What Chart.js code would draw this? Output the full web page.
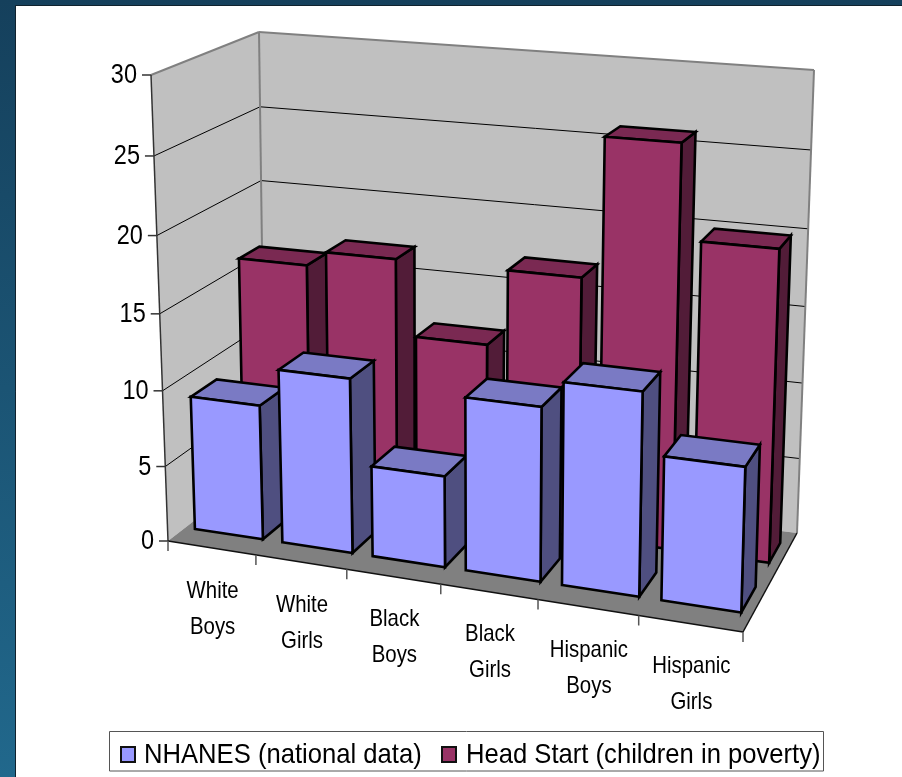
<!DOCTYPE html>
<html>
<head>
<meta charset="utf-8">
<style>
  html, body { margin: 0; padding: 0; background: #fff; }
  #wrap { position: relative; width: 902px; height: 777px; overflow: hidden; }
  canvas { display: block; }
</style>
<script src="https://cdn.jsdelivr.net/npm/chart.js@4/dist/chart.umd.min.js"></script>
</head>
<body>
<div id="wrap"><canvas id="chart" width="902" height="777"></canvas></div>
<script>
// Obesity prevalence by group, in percent
const categories = [['White', 'Boys'], ['White', 'Girls'], ['Black', 'Boys'], ['Black', 'Girls'], ['Hispanic', 'Boys'], ['Hispanic', 'Girls']];
const nhanesValues = [8.9, 11.4, 5.9, 11.1, 12.8, 9];
const headStartValues = [16, 17, 12, 17, 26, 20];
const seriesNames = ['NHANES (national data)', 'Head Start (children in poverty)'];
const yMax = 30;
const yStep = 5;

// Face colours of each series: front, top, side
const faces = [
  { front: '#9999FF', top: '#7A7AC4', side: '#4F4F80' },
  { front: '#993366', top: '#7A2952', side: '#521C38' }
];

// Depth span of each series row inside the box (0 = front, 1 = back wall)
const rowDepth = [[0.18, 0.44], [0.685, 0.885]];

// Corners of the 3D box on screen
const box = {
  front: { bl: [168, 541], br: [743, 632], tl: [151, 75], tr: [757, 118] },
  back: { bl: [265, 466], br: [797, 533], tl: [259, 32], tr: [814, 70] }
};

const lerp = (a, b, t) => a + (b - a) * t;
const lerpPt = (p, q, t) => [lerp(p[0], q[0], t), lerp(p[1], q[1], t)];

// Maps the unit square onto a screen quad with a projective transform
function quadPoint(q, u, v) {
  const [x0, y0] = q.bl, [x1, y1] = q.br, [x2, y2] = q.tr, [x3, y3] = q.tl;
  const dx1 = x1 - x2, dx2 = x3 - x2, sx = x0 - x1 + x2 - x3;
  const dy1 = y1 - y2, dy2 = y3 - y2, sy = y0 - y1 + y2 - y3;
  const den = dx1 * dy2 - dx2 * dy1;
  const g = (sx * dy2 - dx2 * sy) / den;
  const h = (dx1 * sy - sx * dy1) / den;
  const a = x1 - x0 + g * x1, b = x3 - x0 + h * x3;
  const d = y1 - y0 + g * y1, e = y3 - y0 + h * y3;
  const w = g * u + h * v + 1;
  return [(a * u + b * v + x0) / w, (d * u + e * v + y0) / w];
}

// Screen position of a point given as (across, up, into) fractions of the box
function project(u, v, depth) {
  const f = box.front, k = box.back;
  return quadPoint({
    bl: lerpPt(f.bl, k.bl, depth),
    br: lerpPt(f.br, k.br, depth),
    tl: lerpPt(f.tl, k.tl, depth),
    tr: lerpPt(f.tr, k.tr, depth)
  }, u, v);
}

function poly(ctx, pts, fill, stroke, lw) {
  ctx.beginPath();
  pts.forEach((p, i) => i ? ctx.lineTo(p[0], p[1]) : ctx.moveTo(p[0], p[1]));
  ctx.closePath();
  if (fill) { ctx.fillStyle = fill; ctx.fill(); }
  if (stroke) { ctx.strokeStyle = stroke; ctx.lineWidth = lw; ctx.stroke(); }
}

function line(ctx, a, b, color, lw) {
  ctx.beginPath();
  ctx.moveTo(a[0], a[1]);
  ctx.lineTo(b[0], b[1]);
  ctx.strokeStyle = color;
  ctx.lineWidth = lw;
  ctx.stroke();
}

// Draws text compressed horizontally by the factor sx
function squeezedText(ctx, text, x, y, sx) {
  ctx.save();
  ctx.translate(x, y);
  ctx.scale(sx, 1);
  ctx.fillStyle = '#000';
  ctx.fillText(text, 0, 0);
  ctx.restore();
}

const labelFont = '"Liberation Sans", Arial, sans-serif';
const barEdge = 2.6;

// Renders the chart as a 3D box, reading every position from the chart's scales
const box3d = {
  id: 'box3d',
  beforeDatasetsDraw(chart) {
    const ctx = chart.ctx;
    const xs = chart.scales.x, ys = chart.scales.y;
    const W = xs.right - xs.left, H = ys.bottom - ys.top;
    const toV = py => (ys.bottom - py) / H;
    const toU = px => (px - xs.left) / W;

    ctx.save();
    ctx.lineJoin = 'miter';

    // Backdrop
    const grad = ctx.createLinearGradient(0, 0, 0, 777);
    grad.addColorStop(0, '#15405C');
    grad.addColorStop(1, '#21688C');
    ctx.fillStyle = grad;
    ctx.fillRect(0, 0, 902, 777);
    ctx.fillStyle = '#fff';
    ctx.fillRect(16, 6, 886, 771);
    line(ctx, [15.5, 5.5], [902, 5.5], '#10222e', 1);
    line(ctx, [15.5, 5.5], [15.5, 777], '#10222e', 1);

    // Walls and floor
    poly(ctx, [project(0, 0, 0), project(0, 1, 0), project(0, 1, 1), project(0, 0, 1)], '#C0C0C0');
    poly(ctx, [project(0, 0, 1), project(0, 1, 1), project(1, 1, 1), project(1, 0, 1)], '#C0C0C0');
    poly(ctx, [project(0, 0, 0), project(1, 0, 0), project(1, 0, 1), project(0, 0, 1)], '#808080');

    // Gridlines along both walls
    ys.ticks.forEach(t => {
      if (t.value === 0 || t.value === yMax) return;
      const v = toV(ys.getPixelForValue(t.value));
      line(ctx, project(0, v, 0), project(0, v, 1), '#000', 1);
      line(ctx, project(0, v, 1), project(1, v, 1), '#000', 1);
    });

    // Wall outlines
    line(ctx, project(0, 1, 0), project(0, 1, 1), '#808080', 2);
    line(ctx, project(0, 1, 1), project(1, 1, 1), '#808080', 2);
    line(ctx, project(0, 1, 1), project(0, 0, 1), '#808080', 2);
    line(ctx, project(1, 1, 1), project(1, 0, 1), '#808080', 2);
    line(ctx, project(0, 1, 0), project(0, 0, 0), '#333', 1.5);
    line(ctx, project(0, 0, 0), project(1, 0, 0), '#111', 1.5);
    line(ctx, project(1, 0, 0), project(1, 0, 1), '#111', 1.5);

    // Value axis ticks and labels
    ctx.font = '27px ' + labelFont;
    ctx.textAlign = 'right';
    ctx.textBaseline = 'middle';
    ys.ticks.forEach(t => {
      const p = project(0, toV(ys.getPixelForValue(t.value)), 0);
      line(ctx, [p[0] - 9, p[1]], p, '#333', 1.5);
      squeezedText(ctx, t.label, p[0] - 14, p[1] + 1, 0.87);
    });

    // Category ticks and labels
    const n = categories.length;
    for (let i = 0; i <= n; i++) {
      const edge = i < n ? xs.getPixelForValue(i) - W / n / 2 : xs.right;
      const p = project(toU(edge), 0, 0);
      line(ctx, p, [p[0], p[1] + 10], '#555', 1.5);
    }
    ctx.textAlign = 'center';
    ctx.textBaseline = 'middle';
    ctx.font = '24px ' + labelFont;
    categories.forEach((lines, i) => {
      const p = project(toU(xs.getPixelForValue(i)), 0, 0);
      lines.forEach((s, j) => squeezedText(ctx, s, p[0] + 1, p[1] + 43 + j * 36, 0.85));
    });

    // Bars: back row first, left to right within each row
    [1, 0].forEach(ds => {
      const [d0, d1] = rowDepth[ds];
      const c = faces[ds];
      chart.getDatasetMeta(ds).data.forEach(el => {
        const u0 = toU(el.x - el.width / 2), u1 = toU(el.x + el.width / 2);
        const v = toV(el.y), b = toV(el.base);
        poly(ctx, [project(u1, b, d0), project(u1, v, d0), project(u1, v, d1), project(u1, b, d1)], c.side, '#000', barEdge);
        poly(ctx, [project(u0, v, d0), project(u1, v, d0), project(u1, v, d1), project(u0, v, d1)], c.top, '#000', barEdge);
        poly(ctx, [project(u0, b, d0), project(u1, b, d0), project(u1, v, d0), project(u0, v, d0)], c.front, '#000', barEdge);
      });
    });

    // Legend
    poly(ctx, [[109.5, 731.5], [823.5, 731.5], [823.5, 771], [109.5, 771]], '#fff', '#555', 1);
    ctx.textAlign = 'left';
    ctx.textBaseline = 'middle';
    ctx.font = '28px ' + labelFont;
    [[121, 144], [442, 466]].forEach((xPos, i) => {
      poly(ctx, [[xPos[0], 747], [xPos[0] + 14, 747], [xPos[0] + 14, 762], [xPos[0], 762]], faces[i].front, '#111', 2);
      squeezedText(ctx, seriesNames[i], xPos[1], 755, 0.915);
    });

    ctx.restore();
    return false;
  }
};

new Chart(document.getElementById('chart'), {
  type: 'bar',
  data: {
    labels: categories,
    datasets: [
      { label: seriesNames[0], data: nhanesValues },
      { label: seriesNames[1], data: headStartValues }
    ]
  },
  options: {
    responsive: false,
    animation: false,
    events: [],
    layout: { padding: { left: 168, right: 159, top: 75, bottom: 236 } },
    datasets: { bar: { grouped: false, categoryPercentage: 0.78, barPercentage: 1 } },
    scales: {
      x: { display: false },
      y: { display: false, min: 0, max: yMax, ticks: { stepSize: yStep } }
    },
    plugins: { legend: { display: false }, tooltip: { enabled: false } }
  },
  plugins: [box3d]
});
</script>
</body>
</html>
